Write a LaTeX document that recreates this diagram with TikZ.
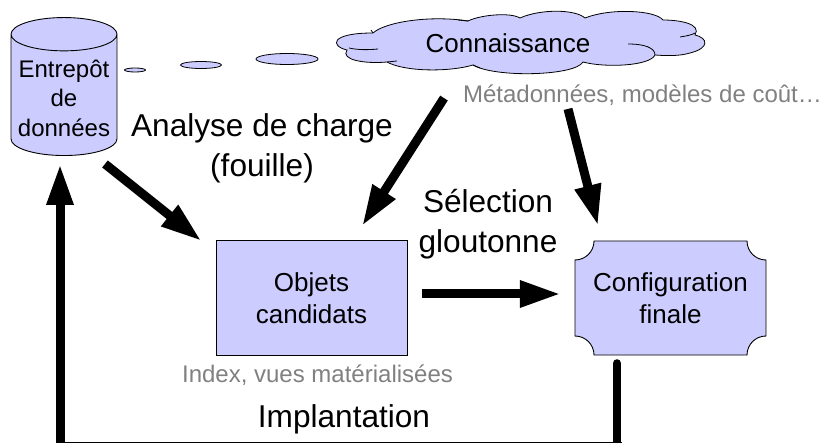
\documentclass[tikz,border=0pt]{standalone}
\usepackage{fontspec}
\setmainfont{Liberation Sans}
\usetikzlibrary{arrows.meta,shapes.geometric}
\definecolor{boxblue}{RGB}{204,204,255}
\definecolor{notegray}{RGB}{128,128,128}
\tikzstyle{block} = [draw, fill=boxblue, rectangle, line width=0.9pt]
\tikzstyle{bubble} = [draw, fill=boxblue, ellipse, line width=0.8pt, inner sep=0pt]
\tikzstyle{big} = [align=center, font=\fontsize{31.6}{40}\selectfont]
\tikzstyle{mid} = [align=center, font=\fontsize{26}{32.5}\selectfont]
\tikzstyle{note} = [text=notegray, font=\fontsize{24}{28}\selectfont]
\tikzstyle{flow} = [line width=9pt, -{Triangle[length=41pt,width=25pt]}]

\begin{document}
\begin{tikzpicture}[x=1pt,y=-1pt]
    \useasboundingbox (0,0) rectangle (824,443);
    \node [block, cylinder, shape border rotate=90, aspect=5, minimum width=106pt, minimum height=138pt] (store) at (64,98) {};
    \node [align=center, font=\fontsize{24}{29.5}\selectfont] (storetext) at (64,98) {Entrepôt\\de\\données};
    \node [bubble, minimum width=21pt, minimum height=4pt] (bub1) at (135,70) {};
    \node [bubble, minimum width=41pt, minimum height=7pt] (bub2) at (201,65) {};
    \node [bubble, minimum width=62pt, minimum height=11pt] (bub3) at (287,59) {};
    % nuage
    \draw [fill=boxblue, line width=0.8pt] (373,33) .. controls (385,22) and (430,15) .. (468,21)
      .. controls (480,15) and (510,12) .. (520,18) .. controls (540,9) and (575,9) .. (585,18)
      .. controls (610,8) and (655,10) .. (663,20) .. controls (680,20) and (702,24) .. (695,35)
      .. controls (708,38) and (710,48) .. (690,53) .. controls (680,56) and (668,56) .. (655,55)
      .. controls (650,66) and (605,68) .. (583,62) .. controls (575,76) and (495,78) .. (473,65)
      .. controls (450,72) and (405,72) .. (387,62) .. controls (365,64) and (340,60) .. (347,50)
      .. controls (330,46) and (330,33) .. (373,33) -- cycle;
    \draw [line width=0.8pt] (349,48) .. controls (358,50) and (368,50) .. (378,49);
    \draw [line width=0.8pt] (628,44) .. controls (645,44) and (655,48) .. (655,55);
    \draw [line width=0.8pt] (680,37) .. controls (686,36) and (692,35) .. (695,33);
    \draw [line width=0.8pt] (458,20) -- (468,21);
    \draw [line width=0.8pt] (373,33) -- (371,30);
    \draw [line width=0.8pt] (387,62) -- (397,61);
    \draw [line width=0.8pt] (473,65) -- (480,68);
    \node [font=\fontsize{26}{31}\selectfont] (cloud) at (508,43) {Connaissance};
    \node [note] (meta) at (642.5,95) {Métadonnées, modèles de coût…};
    \node [big] (load) at (262,148) {Analyse de charge\\(fouille)};
    \node [block, mid, minimum width=191pt, minimum height=115pt] (cand) at (311.5,298) {Objets\\candidats};
    \node [note] (idx) at (317.5,375) {Index, vues matérialisées};
    \node [big] (select) at (488,224) {Sélection\\gloutonne};
    \draw [fill=boxblue, line width=0.9pt] (594,241) -- (747,241) arc[start angle=180, end angle=270, radius=19pt] -- (766,336)
      arc[start angle=90, end angle=180, radius=19pt] -- (594,355) arc[start angle=0, end angle=90, radius=19pt] -- (575,260)
      arc[start angle=270, end angle=360, radius=19pt] -- cycle;
    \node [mid, minimum width=191pt, minimum height=114pt, inner sep=0pt] (final) at (670.5,298) {Configuration\\finale};
    \node [big] (impl) at (344,419) {Implantation};
    \coordinate (loopa) at (617,446);
    \coordinate (loopb) at (60,446);

    \draw [flow] ([shift={(41,8)}]store.south) -- ([shift={(-14,1)}]cand.north west);
    \draw [flow] ([shift={(-64,42)}]cloud.south) -- ([shift={(50.5,-14)}]cand.north);
    \draw [flow] ([shift={(-74.5,0)}]meta.south) -- ([shift={(-72.5,-15)}]final.north);
    \draw [flow] ([shift={(15,-4)}]cand.east) -- ([shift={(-14,-4)}]final.west);
    \draw [line width=8pt, line cap=round] (loopa) -- ([shift={(0,8)}]final.south -| loopa);
    \draw [line width=9pt, line cap=rect] (loopa) -- (loopb);
    \draw [flow] (loopb) -- (60,164);
\end{tikzpicture}
\end{document}
